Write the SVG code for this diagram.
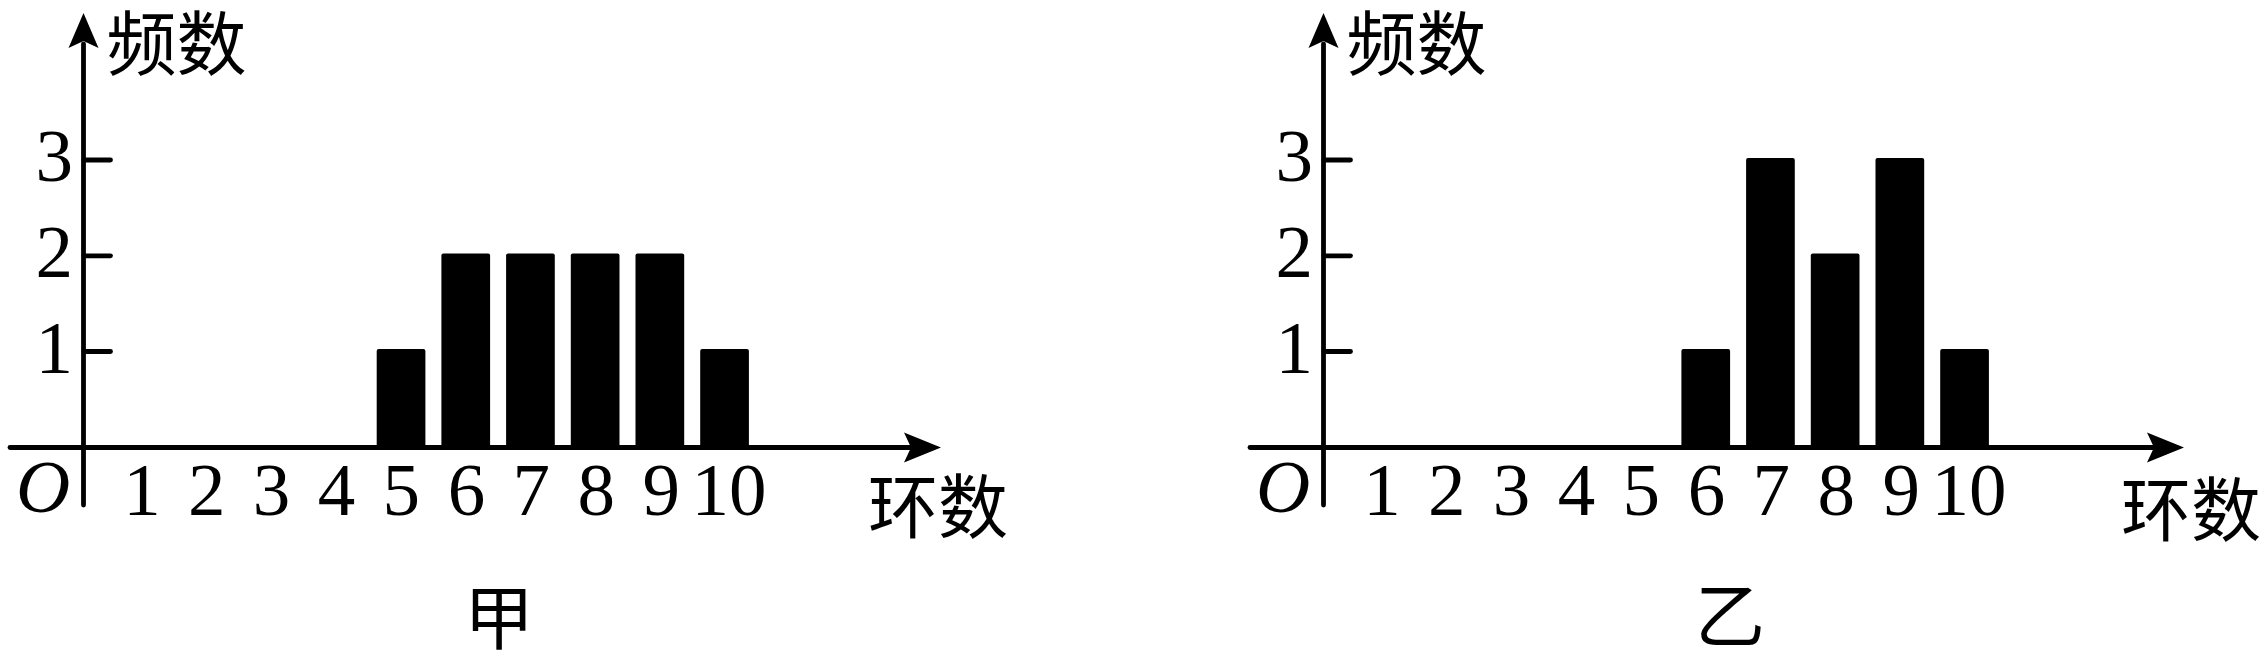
<svg xmlns="http://www.w3.org/2000/svg" width="2268" height="657" viewBox="0 0 2268 657">
<style>
.ax{stroke:#000;stroke-width:4.8;fill:none;stroke-linecap:round}
.tk{stroke:#000;stroke-width:4.8;fill:none;stroke-linecap:round}
.ah{fill:#000;stroke:none}
.bar{fill:#000;stroke:none}
.num{font-family:"Liberation Serif","Times New Roman",serif;font-size:75px;fill:#000}
.o{font-family:"Liberation Serif","Times New Roman",serif;font-size:75px;font-style:italic;fill:#000}
.cjk{font-family:"Liberation Serif","Noto Sans CJK SC",sans-serif;font-size:70px;fill:#000;text-anchor:middle}
</style>
<rect width="2268" height="657" fill="#fff"/>

<g id="chart-jia">
  <g id="axes-jia">
    <line class="ax" x1="83.5" y1="505" x2="83.5" y2="44"/>
    <path class="ah" d="M83.5,13 L98.5,48 L83.5,41 L68.5,48 Z"/>
    <line class="ax" x1="10" y1="447.5" x2="910" y2="447.5"/>
    <path class="ah" d="M941,447.5 L904,432.5 L911,447.5 L904,462.5 Z"/>
    <line class="tk" x1="84" y1="160" x2="110.5" y2="160"/>
    <line class="tk" x1="84" y1="255.8" x2="110.5" y2="255.8"/>
    <line class="tk" x1="84" y1="351.5" x2="110.5" y2="351.5"/>
  </g>
  <g id="bars-jia">
    <rect class="bar" x="376.7" y="349" width="48.7" height="98.5" rx="2"/>
    <rect class="bar" x="441.4" y="253.5" width="48.7" height="194" rx="2"/>
    <rect class="bar" x="506.1" y="253.5" width="48.7" height="194" rx="2"/>
    <rect class="bar" x="570.8" y="253.5" width="48.7" height="194" rx="2"/>
    <rect class="bar" x="635.5" y="253.5" width="48.7" height="194" rx="2"/>
    <rect class="bar" x="700.2" y="349" width="48.7" height="98.5" rx="2"/>
  </g>
  <g id="labels-jia">
    <text class="cjk" x="176.5" y="70">频数</text>
    <text class="num" x="73" y="181" text-anchor="end">3</text>
    <text class="num" x="73" y="277" text-anchor="end">2</text>
    <text class="num" x="73" y="373" text-anchor="end">1</text>
    <text class="o" x="43" y="512" text-anchor="middle">O</text>
    <g class="num" text-anchor="middle">
      <text x="142" y="515">1</text>
      <text x="206.8" y="515">2</text>
      <text x="271.6" y="515">3</text>
      <text x="336.4" y="515">4</text>
      <text x="401.2" y="515">5</text>
      <text x="466.5" y="515">6</text>
      <text x="531.3" y="515">7</text>
      <text x="596.3" y="515">8</text>
      <text x="661.3" y="515">9</text>
      <text x="729" y="515">10</text>
    </g>
    <text class="cjk" x="938" y="533">环数</text>
    <text class="cjk" x="499" y="644">甲</text>
  </g>
</g>

<g id="chart-yi">
  <g id="axes-yi">
    <line class="ax" x1="1323.5" y1="505" x2="1323.5" y2="44"/>
    <path class="ah" d="M1323.5,13 L1338.5,48 L1323.5,41 L1308.5,48 Z"/>
    <line class="ax" x1="1250" y1="447.5" x2="2153" y2="447.5"/>
    <path class="ah" d="M2184,447.5 L2147,432.5 L2154,447.5 L2147,462.5 Z"/>
    <line class="tk" x1="1324" y1="160" x2="1350.5" y2="160"/>
    <line class="tk" x1="1324" y1="255.8" x2="1350.5" y2="255.8"/>
    <line class="tk" x1="1324" y1="351.5" x2="1350.5" y2="351.5"/>
  </g>
  <g id="bars-yi">
    <rect class="bar" x="1681.4" y="349" width="48.7" height="98.5" rx="2"/>
    <rect class="bar" x="1746.1" y="158" width="48.7" height="289.5" rx="2"/>
    <rect class="bar" x="1810.8" y="253.5" width="48.7" height="194" rx="2"/>
    <rect class="bar" x="1875.5" y="158" width="48.7" height="289.5" rx="2"/>
    <rect class="bar" x="1940.2" y="349" width="48.7" height="98.5" rx="2"/>
  </g>
  <g id="labels-yi">
    <text class="cjk" x="1416.5" y="70">频数</text>
    <text class="num" x="1313" y="181" text-anchor="end">3</text>
    <text class="num" x="1313" y="277" text-anchor="end">2</text>
    <text class="num" x="1313" y="373" text-anchor="end">1</text>
    <text class="o" x="1283" y="512" text-anchor="middle">O</text>
    <g class="num" text-anchor="middle">
      <text x="1382" y="515">1</text>
      <text x="1446.8" y="515">2</text>
      <text x="1511.6" y="515">3</text>
      <text x="1576.4" y="515">4</text>
      <text x="1641.2" y="515">5</text>
      <text x="1706.5" y="515">6</text>
      <text x="1771.3" y="515">7</text>
      <text x="1836.3" y="515">8</text>
      <text x="1901.3" y="515">9</text>
      <text x="1969" y="515">10</text>
    </g>
    <text class="cjk" x="2191" y="536">环数</text>
    <text class="cjk" x="1730" y="642">乙</text>
  </g>
</g>
</svg>
